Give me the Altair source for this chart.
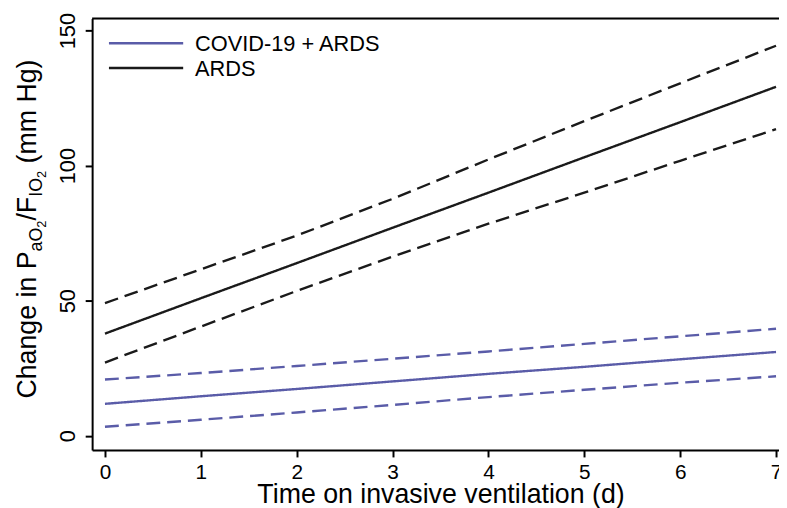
import altair as alt
import pandas as pd

# ---------------- data ----------------
days = [0, 1, 2, 3, 4, 5, 6, 7]
ards_est = [37.8, 50.9, 63.9, 77.0, 90.0, 103.1, 116.1, 129.2]
ards_hi = [49.1, 61.6, 74.1, 87.7, 102.3, 116.5, 130.5, 144.4]
ards_lo = [27.1, 40.4, 53.6, 66.3, 78.5, 90.0, 101.8, 113.5]
covid_est = [11.8, 14.6, 17.3, 20.1, 22.9, 25.5, 28.3, 31.0]
covid_hi = [20.8, 23.2, 25.8, 28.5, 31.2, 34.0, 36.8, 39.6]
covid_lo = [3.3, 5.9, 8.6, 11.4, 14.3, 17.0, 19.6, 22.0]

groups = ["COVID-19 + ARDS", "ARDS"]
colors = ["#5a5ca8", "#1a1a1a"]
kinds = ["est", "hi", "lo"]
x_ticks = [0, 1, 2, 3, 4, 5, 6, 7]
y_ticks = [0, 50, 100, 150]
x_title = "Time on invasive ventilation (d)"

series = {
    ("COVID-19 + ARDS", "est"): covid_est,
    ("COVID-19 + ARDS", "hi"): covid_hi,
    ("COVID-19 + ARDS", "lo"): covid_lo,
    ("ARDS", "est"): ards_est,
    ("ARDS", "hi"): ards_hi,
    ("ARDS", "lo"): ards_lo,
}
rows = []
for (g, k), vals in series.items():
    for d, v in zip(days, vals):
        rows.append({"group": g, "kind": k, "line": g + "|" + k, "day": d, "value": v})
df = pd.DataFrame(rows)

FONT = "Liberation Sans"
W, H = 694, 436

xs = alt.Scale(domain=[-0.134, 7.031], nice=False, zero=False)
ys = alt.Scale(domain=[-5.3, 154.5], nice=False, zero=False)

lines = alt.Chart(df).mark_line(strokeWidth=2.4, clip=True).encode(
    x=alt.X("day:Q", scale=xs, axis=alt.Axis(
        values=x_ticks, format="d", grid=False, tickSize=7, tickWidth=2,
        tickColor="black", domainColor="black", domainWidth=2,
        labelFont=FONT, labelFontSize=21, labelColor="black", labelPadding=5,
        title=x_title, titleFont=FONT, titleFontSize=27, titleFontWeight="normal",
        titleColor="black", titleBaseline="alphabetic", titleY=53, titleX=352)),
    y=alt.Y("value:Q", scale=ys, axis=alt.Axis(
        values=y_ticks, format="d", grid=False, tickSize=7, tickWidth=2,
        tickColor="black", domainColor="black", domainWidth=2,
        labelFont=FONT, labelFontSize=22, labelColor="black", labelPadding=6,
        labelAngle=270, labelAlign="center", labelBaseline="bottom", title=None)),
    color=alt.Color("group:N", scale=alt.Scale(domain=groups, range=colors), legend=None),
    strokeDash=alt.StrokeDash("kind:N", scale=alt.Scale(domain=kinds, range=[[1, 0], [14, 7], [14, 7]]), legend=None),
    detail="line:N",
)

one = pd.DataFrame({"a": [0]})

# top frame line
top = alt.Chart(one).mark_rule(color="black", strokeWidth=2).encode(
    x=alt.value(0), x2=alt.value(W), y=alt.value(0))

# legend
extra = []
for i, (g, c) in enumerate(zip(groups, colors)):
    yy = 25 + i * 25
    extra.append(alt.Chart(one).mark_rule(color=c, strokeWidth=2.4).encode(
        x=alt.value(17), x2=alt.value(92), y=alt.value(yy)))
    extra.append(alt.Chart(one).mark_text(
        text=g, font=FONT, fontSize=22, align="left", baseline="middle", color="black").encode(
        x=alt.value(104), y=alt.value(yy + 1)))

# y title with subscripts, built from pieces (rotated 270)
cw = {" ": 278, "(": 333, ")": 333, "/": 278, "2": 556, "C": 722, "P": 667, "F": 611,
      "I": 278, "O": 778, "H": 722, "a": 556, "e": 556, "g": 556, "h": 556, "i": 222,
      "m": 833, "n": 556}
S, S1, S2 = 27, 18, 13
pieces = [("Change in P", S, 0), ("aO", S1, 6), ("2", S2, 10), ("/F", S, 0),
          ("IO", S1, 6), ("2", S2, 10), (" ", S, 0), ("(mm Hg)", S, 0)]
ty = 400 - 16
base_x = 36 - 93
for txt, sz, sh in pieces:
    if txt.strip():
        extra.append(alt.Chart(one).mark_text(
            text=txt, font=FONT, fontSize=sz, align="left", baseline="alphabetic",
            angle=270, color="black").encode(x=alt.value(base_x + sh), y=alt.value(ty)))
    ty -= sum(cw[ch] for ch in txt) / 1000 * sz

chart = alt.layer(lines, top, *extra).properties(
    width=W, height=H,
    autosize=alt.AutoSizeParams(type="none"),
    padding={"left": 85, "top": 8, "right": 0, "bottom": 56},
).configure_view(stroke=None).configure(background="white")

chart.save("out.html", embed_options={"renderer": "svg", "actions": False})
